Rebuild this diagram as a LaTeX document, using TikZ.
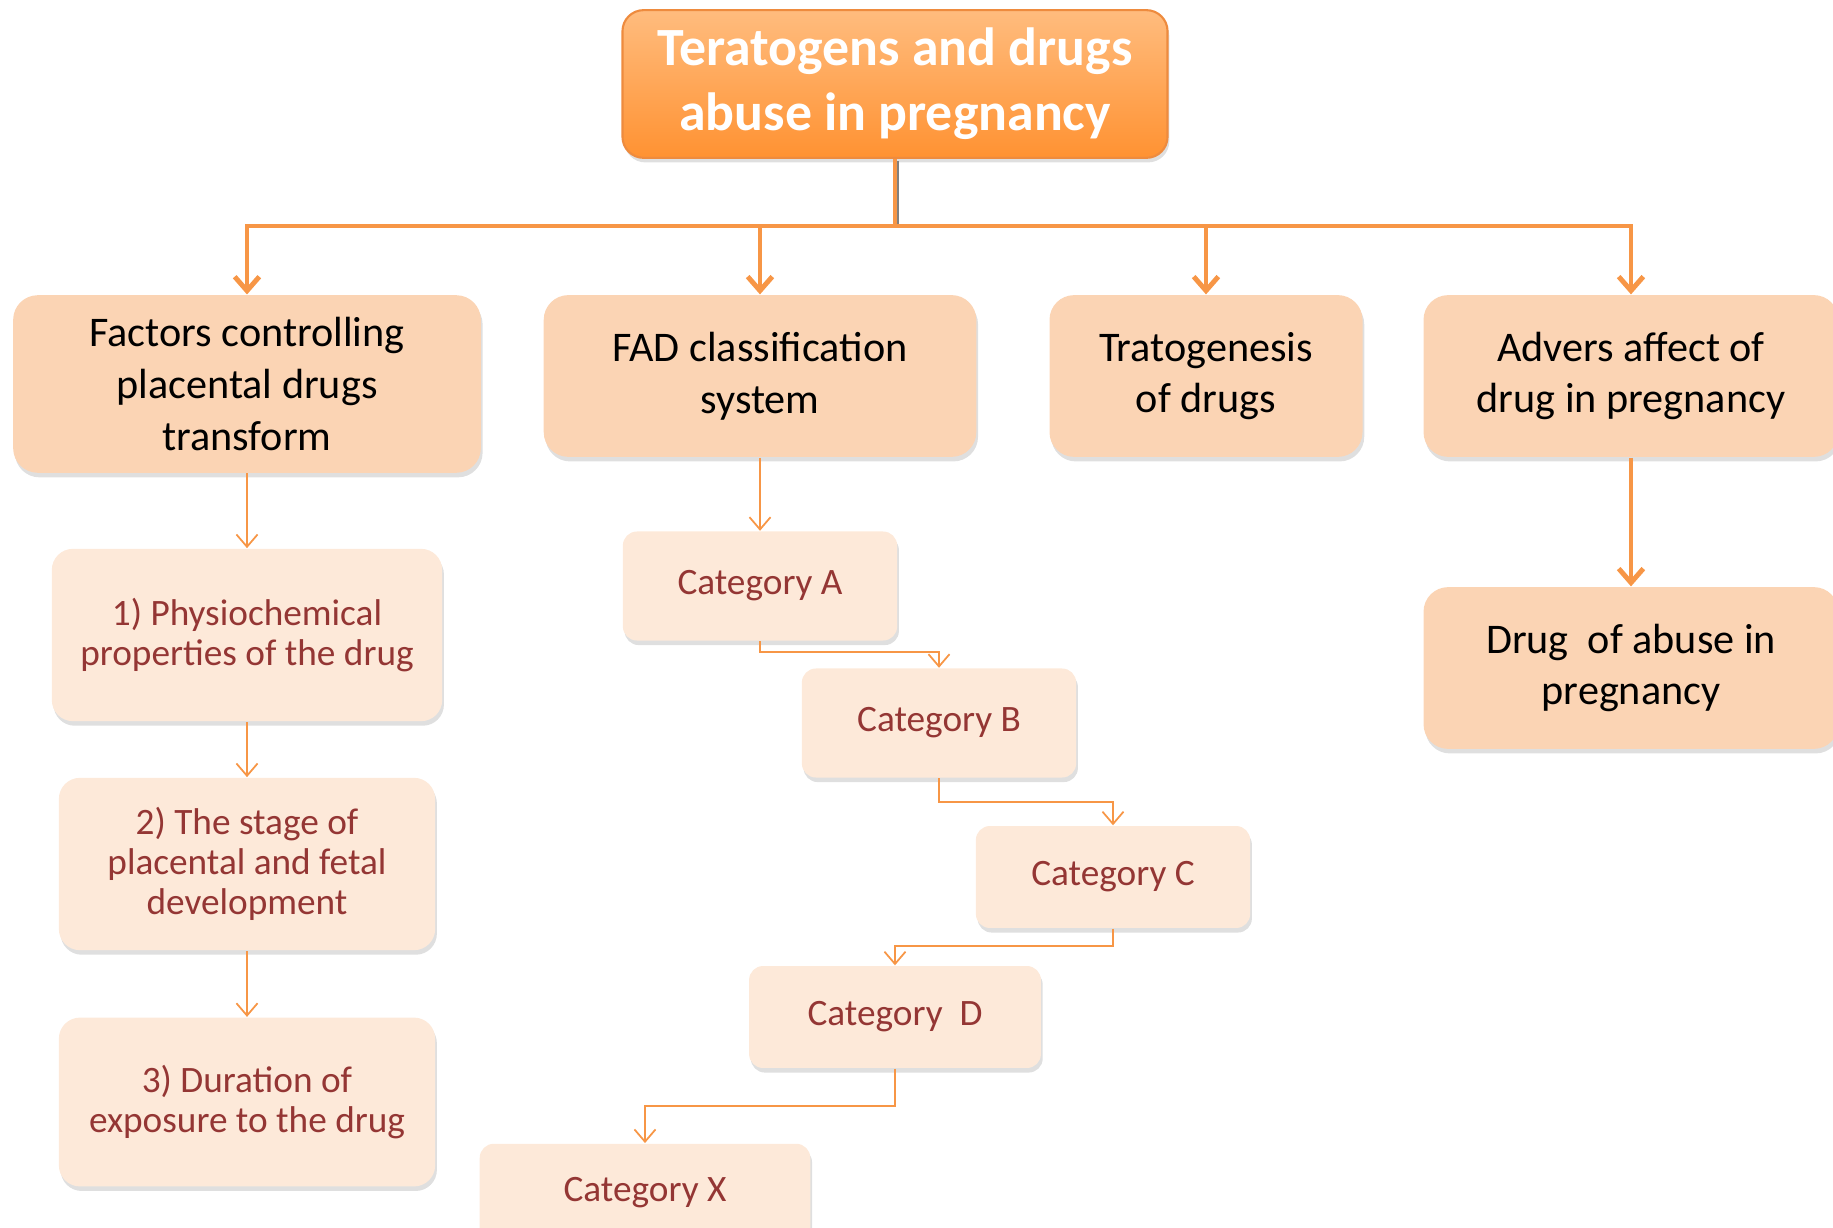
\documentclass[tikz,border=0pt]{standalone}
\usepackage{fontspec}
\setmainfont{Carlito}
\usetikzlibrary{arrows.meta,shadows}

\definecolor{headtop}{HTML}{FFBC7E}
\definecolor{headbot}{HTML}{FF9232}
\definecolor{headedge}{HTML}{EE8B3E}
\definecolor{peach}{HTML}{FBD4B4}
\definecolor{cream}{HTML}{FDE9D9}
\definecolor{orangeline}{HTML}{F79646}
\definecolor{darkred}{HTML}{943634}

\tikzset{
  softshadow/.style={drop shadow={opacity=0.25, shadow xshift=0.5pt, shadow yshift=-1.3pt}},
  headbox/.style={draw=headedge, line width=0.6pt, rounded corners=6pt,
    top color=headtop, bottom color=headbot, text=white, align=center,
    font=\fontsize{15.3}{18.4}\selectfont\bfseries, softshadow},
  mainbox/.style={fill=peach, rounded corners=7pt, align=center,
    font=\fontsize{12}{14.7}\selectfont, softshadow},
  subbox/.style={fill=cream, rounded corners=6pt, text=darkred, align=center,
    font=\fontsize{10.6}{11.4}\selectfont, softshadow},
  catbox/.style={subbox, rounded corners=4pt},
  bigline/.style={draw=orangeline, line width=1.4pt},
  bigarrow/.style={bigline, -{Straight Barb[length=4pt,width=7pt]}},
  thinarrow/.style={draw=orangeline, line width=0.5pt, -{Straight Barb[length=3.5pt,width=6pt]}}
}

\begin{document}
\begin{tikzpicture}[x=0.01cm, y=-0.01cm]
  \useasboundingbox (0,0) rectangle (1833,1228);

  % top
  \node[headbox, minimum width=155pt, minimum height=42pt] (head) at (895,84)
    {Teratogens and drugs\\abuse in pregnancy};

  % first row
  \node[mainbox, minimum width=133pt, minimum height=50.5pt] (factors) at (247,384)
    {Factors controlling\\placental drugs\\transform};
  \node[mainbox, minimum width=123pt, minimum height=46pt] (fad) at (760,376)
    {FAD classification\\system};
  \node[mainbox, minimum width=89pt, minimum height=46pt] (trato) at (1206,376)
    {Tratogenesis\\of drugs};
  \node[mainbox, minimum width=118pt, minimum height=46pt] (advers) at (1631,376)
    {Advers affect of\\drug in pregnancy};
  \node[mainbox, minimum width=118pt, minimum height=46pt] (abuse) at (1631,668)
    {Drug~ of abuse in\\pregnancy};

  % factors
  \node[subbox, minimum width=111pt, minimum height=49pt] (phys) at (247,635)
    {1) Physiochemical\\properties of the drug};
  \node[subbox, minimum width=107pt, minimum height=49pt] (stage) at (247,864)
    {2) The stage of\\placental and fetal\\development};
  \node[subbox, minimum width=107pt, minimum height=48pt] (dur) at (247,1102)
    {3) Duration of\\exposure to the drug};

  % categories
  \node[catbox, minimum width=78pt, minimum height=31pt] (catA) at (760,586) {Category A};
  \node[catbox, minimum width=78pt, minimum height=31pt] (catB) at (939,723) {Category B};
  \node[catbox, minimum width=78pt, minimum height=29pt] (catC) at (1113,877) {Category C};
  \node[catbox, minimum width=83pt, minimum height=29pt] (catD) at (895,1017) {Category~ D};
  \node[catbox, minimum width=94pt, minimum height=28pt] (catX) at (645,1193) {Category X};

  % trunk and branches
  \coordinate (bar) at (895,226);
  \draw[bigline, preaction={draw=black!50, line width=1.4pt, transform canvas={xshift=0.5pt, yshift=-0.6pt}}]
    (head.south) -- (bar);
  \draw[bigarrow] (bar) -| (factors.north);
  \draw[bigarrow] (bar) -| (fad.north);
  \draw[bigarrow] (bar) -| (trato.north);
  \draw[bigarrow] (bar) -| (advers.north);
  \draw[bigarrow] (advers.south) -- (abuse.north);

  \draw[thinarrow] (factors.south) -- (phys.north);
  \draw[thinarrow] (phys.south) -- (stage.north);
  \draw[thinarrow] (stage.south) -- (dur.north);

  \draw[thinarrow] (fad.south) -- (catA.north);
  \draw[thinarrow] (catA.south) -- ++(0,11) -| (catB.north);
  \draw[thinarrow] (catB.south) -- ++(0,24) -| (catC.north);
  \draw[thinarrow] (catC.south) -- ++(0,17) -| (catD.north);
  \draw[thinarrow] (catD.south) -- ++(0,37) -| (catX.north);
\end{tikzpicture}
\end{document}
